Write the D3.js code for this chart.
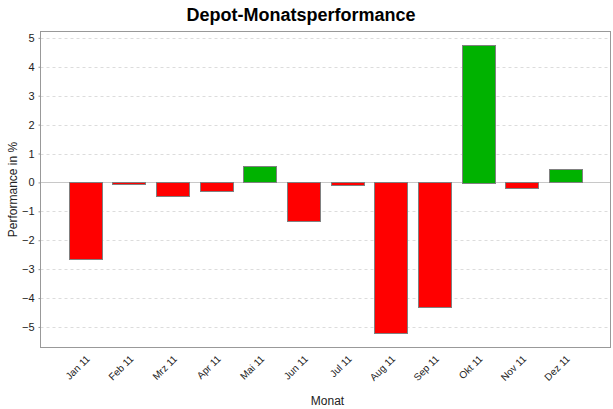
<!DOCTYPE html>
<html><head><meta charset="utf-8">
<script src="https://cdn.jsdelivr.net/npm/d3@7"></script>
<style>body{margin:0;background:#fff}svg{display:block}text{font-family:"Liberation Sans",Arial,sans-serif}</style>
</head><body>
<script>
const months = ["Jan 11","Feb 11","Mrz 11","Apr 11","Mai 11","Jun 11","Jul 11","Aug 11","Sep 11","Okt 11","Nov 11","Dez 11"];
const performance = [-2.68,-0.07,-0.48,-0.31,0.56,-1.34,-0.12,-5.24,-4.32,4.77,-0.2,0.46];
const yTicks = [-5,-4,-3,-2,-1,0,1,2,3,4,5];
const title = "Depot-Monatsperformance";
const xTitle = "Monat";
const yTitle = "Performance in %";

const W = 613, H = 409;
const L = 40.5, R = 610.5, T = 31.5, B = 347.5;
const svg = d3.select("body").append("svg").attr("width", W).attr("height", H);

const y = d3.scaleLinear().domain([-5.71, 5.22]).range([B, T]);
const x = d3.scaleBand().domain(months).range([L, R]).paddingInner(0.237).paddingOuter(0.65);

// grid
svg.append("g").selectAll("line").data(yTicks).join("line")
  .attr("x1", L).attr("x2", R)
  .attr("y1", d => Math.round(y(d)) + 0.5).attr("y2", d => Math.round(y(d)) + 0.5)
  .attr("stroke", d => d === 0 ? "#c8c8c8" : "#dcdcdc")
  .attr("stroke-dasharray", d => d === 0 ? null : "3,3");

// bars
svg.append("g").selectAll("rect").data(performance).join("rect")
  .attr("x", (d, i) => Math.round(x(months[i])) + 0.5)
  .attr("width", Math.round(x.bandwidth()))
  .attr("y", d => Math.round(y(Math.max(0, d))) + 0.5)
  .attr("height", d => Math.max(1, Math.round(Math.abs(y(d) - y(0)))))
  .attr("fill", d => d >= 0 ? "#00b200" : "#ff0000")
  .attr("stroke", "#808080").attr("stroke-width", 1);

// frame
svg.append("rect").attr("x", L).attr("y", T).attr("width", R - L).attr("height", B - T)
  .attr("fill", "none").attr("stroke", "#999");

// y axis
const yAxis = d3.axisLeft(y).tickValues(yTicks).tickSize(2).tickPadding(4).tickFormat(d3.format("d"));
const gy = svg.append("g").attr("transform", `translate(${L},0)`).call(yAxis);
gy.select(".domain").remove();
gy.selectAll("line").attr("stroke", "#999");
gy.selectAll("text").attr("font-size", 11).attr("fill", "#222");

// x axis labels
const xAxis = d3.axisBottom(x).tickSize(0).tickPadding(0);
const gx = svg.append("g").attr("transform", `translate(0,${B})`).call(xAxis);
gx.select(".domain").remove();
gx.selectAll("text")
  .attr("font-size", 10).attr("fill", "#222")
  .attr("text-anchor", "end")
  .attr("dy", null).attr("y", 0)
  .attr("transform", "translate(5,12) rotate(-45)");

// titles
svg.append("text").attr("x", 301).attr("y", 21).attr("text-anchor", "middle")
  .attr("font-size", 18).attr("font-weight", "bold").attr("fill", "#000").text(title);
svg.append("text").attr("x", (L + R) / 2 + 2).attr("y", 405).attr("text-anchor", "middle")
  .attr("font-size", 12).attr("fill", "#222").text(xTitle);
svg.append("text").attr("transform", `translate(17,${(T + B) / 2}) rotate(-90)`).attr("text-anchor", "middle")
  .attr("font-size", 12).attr("fill", "#222").text(yTitle);
</script>
</body></html>
